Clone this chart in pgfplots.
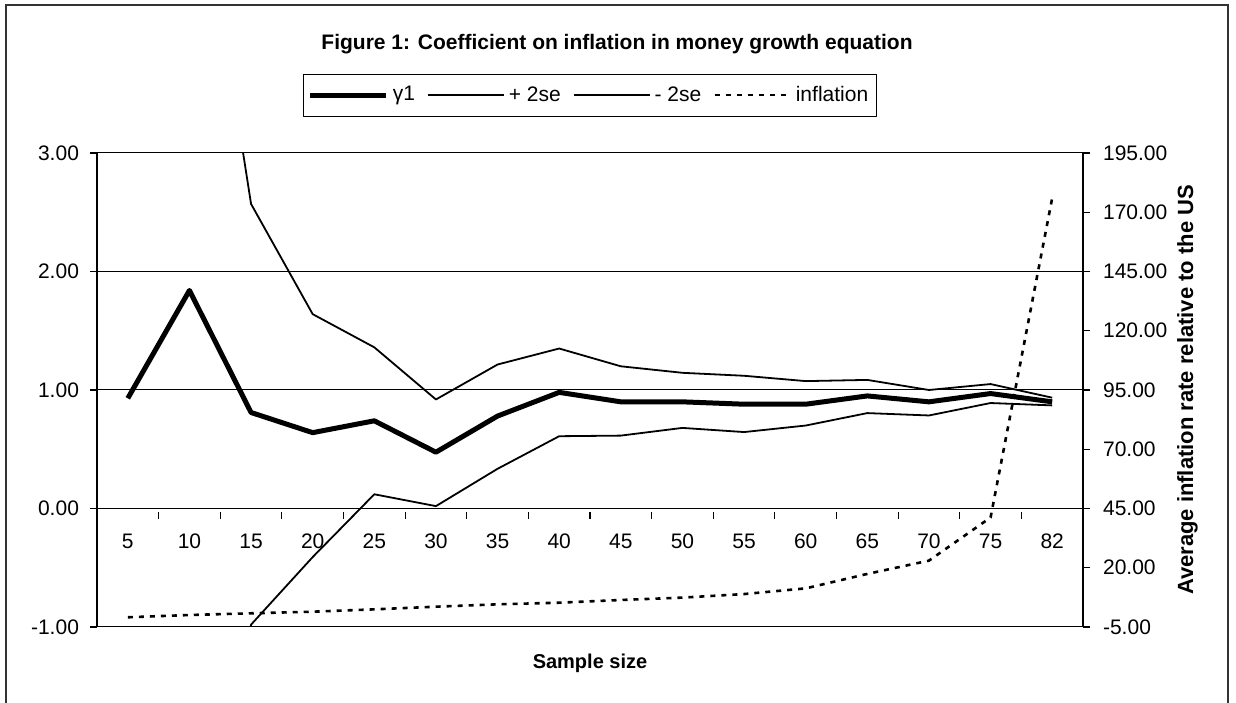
\documentclass[border=0pt]{standalone}
\usepackage{pgfplots}
\pgfplotsset{compat=1.18}
\usepackage{fontspec}
\setmainfont{Liberation Sans}

\pgfplotstableread{
x gamma plus minus infl
0 0.93 8.00 -6.00 -0.9
1 1.84 5.90 -3.50 0.06
2 0.81 2.57 -0.98 0.78
3 0.64 1.64 -0.41 1.46
4 0.74 1.36 0.12 2.45
5 0.475 0.92 0.02 3.57
6 0.78 1.215 0.335 4.57
7 0.98 1.35 0.61 5.25
8 0.90 1.20 0.615 6.4
9 0.90 1.145 0.68 7.4
10 0.88 1.12 0.645 8.9
11 0.88 1.075 0.70 11.3
12 0.95 1.085 0.805 17.4
13 0.90 1.00 0.785 23.0
14 0.97 1.05 0.89 41.2
15 0.90 0.935 0.87 176.0
}\datatable

\begin{document}
\begin{tikzpicture}
\useasboundingbox (0,0) rectangle (618pt,351pt);
\draw[line width=0.6pt, black!80] (3pt,-3pt) -- (3pt,348.5pt) -- (614pt,348.5pt) -- (614pt,-3pt);

\node[font=\bfseries\fontsize{10.5}{12}\selectfont] at (308.5pt,329pt) {Figure 1: Coefficient on inflation in money growth equation};

\begin{axis}[
  at={(48.5pt,37.5pt)}, anchor=south west,
  scale only axis, width=493pt, height=237pt,
  xmin=-0.5, xmax=15.5, ymin=-1, ymax=3,
  axis x line*=middle,
  x axis line style={-, line width=0.6pt},
  y axis line style={-, line width=0.8pt},
  xtick={0,...,15},
  xticklabels={5,10,15,20,25,30,35,40,45,50,55,60,65,70,75,82},
  major x tick style={draw=none},
  minor xtick={0.5,1.5,...,14.5},
  minor x tick style={black, line width=0.6pt, yshift=-1.75pt},
  minor tick length=3.5pt,
  major tick length=3.5pt,
  tick align=outside,
  xticklabel style={anchor=center, yshift=-13pt},
  ytick={-1,0,1,2,3},
  ytick pos=left,
  y tick style={black, line width=0.6pt},
  yticklabel style={xshift=-2pt, /pgf/number format/.cd, fixed, fixed zerofill, precision=2},
  ymajorgrids,
  major grid style={black, line width=0.5pt},
  tick label style={font=\fontsize{10.5}{12}\selectfont},
  /pgf/number format/assume math mode=true,
  xlabel={Sample size},
  xlabel style={at={(axis description cs:0.5,0)}, anchor=center, yshift=-18pt, font=\bfseries\fontsize{10}{12}\selectfont},
  line join=round,
]
\addplot[black, line width=2.5pt, no marks] table[x=x, y=gamma] {\datatable};
\addplot[black, line width=0.9pt, no marks] table[x=x, y=plus] {\datatable};
\addplot[black, line width=0.9pt, no marks] table[x=x, y=minus] {\datatable};
\end{axis}

\begin{axis}[
  at={(48.5pt,37.5pt)}, anchor=south west,
  scale only axis, width=493pt, height=237pt,
  xmin=-0.5, xmax=15.5, ymin=-5, ymax=195,
  axis y line*=right,
  axis x line=none,
  y axis line style={-, line width=0.8pt},
  ytick={-5,20,...,195},
  tick align=outside,
  major tick length=3.5pt,
  y tick style={black, line width=0.6pt},
  yticklabel style={xshift=3pt, /pgf/number format/.cd, fixed, fixed zerofill, precision=2},
  tick label style={font=\fontsize{10.5}{12}\selectfont},
  /pgf/number format/assume math mode=true,
  ylabel={Average inflation rate relative to the US},
  ylabel style={at={(axis description cs:1.106,0.5)}, anchor=center, font=\bfseries\fontsize{11}{13}\selectfont},
  legend style={at={(axis description cs:0.5,1.122)}, anchor=center, draw=black, line width=0.5pt,
    font=\fontsize{10.5}{12}\selectfont, inner xsep=2pt, inner ysep=4pt,
    /tikz/every even column/.append style={column sep=4pt}},
  legend columns=4,
  legend cell align=left,
  legend image code/.code={\draw[#1] (0pt,0pt) -- (38pt,0pt);},
  line join=round,
]
\addlegendimage{black, line width=2.5pt}
\addlegendentry{γ1}
\addlegendimage{black, line width=0.9pt}
\addlegendentry{+ 2se}
\addlegendimage{black, line width=0.9pt}
\addlegendentry{- 2se}
\addplot[black, line width=1.3pt, dash pattern=on 2.5pt off 3pt, no marks] table[x=x, y=infl] {\datatable};
\addlegendentry{inflation}
\end{axis}
\end{tikzpicture}
\end{document}
